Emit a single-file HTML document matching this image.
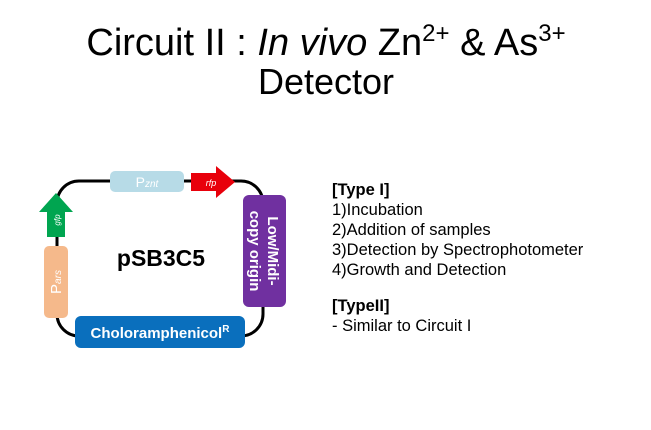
<!DOCTYPE html>
<html><head><meta charset="utf-8"><style>
body{margin:0;width:651px;height:425px;background:#fff;overflow:hidden;font-family:"Liberation Sans",sans-serif}
</style></head><body>
<svg width="651" height="425" xmlns="http://www.w3.org/2000/svg" font-family="Liberation Sans, sans-serif">
<text x="326" y="55" font-size="38" text-anchor="middle" fill="#000">Circuit II : <tspan font-style="italic">In vivo</tspan> Zn<tspan font-size="24" dy="-14">2+</tspan><tspan dy="14"> &amp; As</tspan><tspan font-size="24" dy="-14">3+</tspan></text>
<text x="326" y="94" font-size="36" text-anchor="middle" fill="#000">Detector</text>
<rect x="57" y="181" width="206" height="155" rx="22" fill="none" stroke="#000" stroke-width="3"/>
<rect x="110" y="171" width="74" height="21" rx="5" fill="#b7dbe7"/>
<text x="147" y="187" font-size="14" fill="#fff" text-anchor="middle">P<tspan font-size="10" font-style="italic">znt</tspan></text>
<polygon points="191,173 216,173 216,166 235,182 216,198 216,191 191,191" fill="#e8000b"/>
<text x="211" y="186" font-size="9" font-style="italic" fill="#fff" text-anchor="middle">rfp</text>
<rect x="243" y="195" width="43" height="112" rx="6" fill="#7030a0"/>
<text transform="translate(268,251) rotate(90)" font-size="15" font-weight="bold" fill="#fff" text-anchor="middle">Low/Midi-</text>
<text transform="translate(250,251) rotate(90)" font-size="15" font-weight="bold" fill="#fff" text-anchor="middle">copy origin</text>
<polygon points="47,237 47,212 39,212 56,193 73,212 65,212 65,237" fill="#00a550"/>
<text transform="translate(60,220) rotate(-90)" font-size="8" font-style="italic" fill="#fff" text-anchor="middle">gfp</text>
<rect x="44" y="246" width="24" height="72" rx="5" fill="#f5b98b"/>
<text transform="translate(61,282) rotate(-90)" font-size="15" fill="#fff" text-anchor="middle">P<tspan font-size="10" font-style="italic">ars</tspan></text>
<rect x="75" y="316" width="170" height="32" rx="6" fill="#0a6fbd"/>
<text x="160" y="338" font-size="15" font-weight="bold" fill="#fff" text-anchor="middle">Choloramphenicol<tspan font-size="10" dy="-6">R</tspan></text>
<text x="161" y="266" font-size="23" font-weight="bold" fill="#000" text-anchor="middle">pSB3C5</text>
<g font-size="16.5" fill="#000">
<text x="332" y="195" font-weight="bold">[Type I]</text>
<text x="332" y="215">1)Incubation</text>
<text x="332" y="235">2)Addition of samples</text>
<text x="332" y="255">3)Detection by Spectrophotometer</text>
<text x="332" y="275">4)Growth and Detection</text>
<text x="332" y="311" font-weight="bold">[TypeII]</text>
<text x="332" y="331">-  Similar to Circuit I</text>
</g>
</svg>
</body></html>
